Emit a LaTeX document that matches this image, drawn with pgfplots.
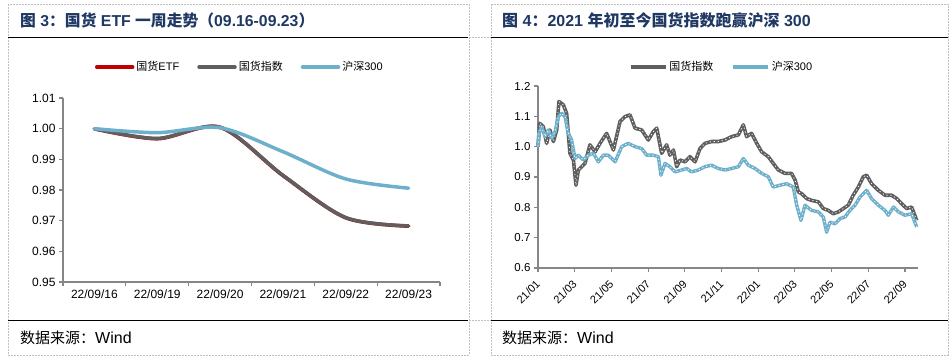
\documentclass[border=0pt]{standalone}
\usepackage{pgfplots}
\usepackage{pgfplotstable}
\pgfplotsset{compat=1.18}
\usepackage{fontspec}
\setmainfont{Liberation Sans}
\newfontfamily\cjk{Noto Sans CJK SC}
\definecolor{navy}{RGB}{31,56,100}
\definecolor{idx}{RGB}{95,95,95}
\definecolor{hs}{RGB}{110,176,204}
\definecolor{etf}{RGB}{192,0,0}
\definecolor{axgray}{RGB}{134,134,134}

\pgfplotstableread{
m v
0 1.000
0.09 1.077
0.29 1.066
0.47 1.011
0.65 1.055
0.84 1.017
1.02 1.055
1.14 1.149
1.38 1.138
1.56 1.110
1.74 0.978
1.93 0.956
2.07 0.873
2.20 0.923
2.38 0.934
2.56 0.945
2.83 1.006
3.11 0.983
3.38 1.011
3.74 1.044
4.11 0.989
4.47 1.083
4.74 1.099
5.01 1.105
5.29 1.061
5.65 1.055
6.01 1.022
6.29 1.050
6.47 1.061
6.74 0.978
7.01 1.006
7.19 0.972
7.38 0.989
7.56 0.934
7.74 0.956
8.01 0.950
8.28 0.967
8.56 0.950
8.83 0.994
9.10 1.011
9.46 1.017
9.83 1.017
10.19 1.022
10.55 1.033
10.92 1.039
11.19 1.072
11.37 1.033
11.64 1.044
11.92 1.011
12.19 0.983
12.55 0.967
12.82 0.945
13.10 0.923
13.46 0.912
13.82 0.912
14.01 0.890
14.19 0.851
14.37 0.845
14.64 0.829
14.91 0.823
15.28 0.818
15.55 0.796
15.82 0.790
16.09 0.779
16.37 0.785
16.64 0.796
16.91 0.807
17.18 0.840
17.46 0.867
17.73 0.901
17.91 0.906
18.18 0.878
18.55 0.856
18.91 0.840
19.27 0.840
19.55 0.829
19.82 0.812
20.09 0.796
20.36 0.801
20.64 0.757
}\gxtable

\pgfplotstableread{
m v
0 1.000
0.05 1.044
0.20 1.066
0.38 1.033
0.56 1.055
0.74 1.028
0.93 1.050
1.11 1.099
1.29 1.110
1.47 1.099
1.65 1.044
1.83 1.022
2.02 0.961
2.20 0.972
2.47 0.956
2.74 0.972
3.02 0.978
3.29 0.950
3.56 0.972
3.83 0.972
4.20 0.950
4.56 1.000
4.92 1.011
5.29 1.000
5.65 0.994
5.92 0.972
6.29 0.972
6.56 0.967
6.70 0.906
6.92 0.945
7.19 0.934
7.47 0.917
7.83 0.923
8.10 0.928
8.37 0.917
8.74 0.923
9.10 0.934
9.46 0.939
9.83 0.928
10.19 0.923
10.55 0.928
10.92 0.934
11.19 0.961
11.46 0.939
11.83 0.928
12.19 0.912
12.55 0.901
12.82 0.867
13.19 0.873
13.55 0.878
13.91 0.867
14.10 0.807
14.33 0.757
14.55 0.807
14.91 0.790
15.28 0.785
15.55 0.768
15.73 0.718
15.91 0.751
16.19 0.746
16.46 0.763
16.73 0.768
17.00 0.790
17.28 0.807
17.55 0.834
17.91 0.856
18.18 0.829
18.55 0.807
18.91 0.790
19.09 0.774
19.37 0.801
19.64 0.785
20.00 0.774
20.36 0.779
20.64 0.735
}\hstable

\begin{document}
\begin{tikzpicture}[x=1pt,y=1pt]
\useasboundingbox (0pt,0pt) rectangle (952pt,-360pt);
% panel frames
\draw[gray!50, dash pattern=on 2pt off 1pt, line width=0.6pt] (8pt,-4pt) rectangle (469pt,-355pt);
\draw[gray!50, dash pattern=on 2pt off 1pt, line width=0.6pt] (491pt,-4pt) rectangle (948pt,-355pt);
\draw[gray!50, dash pattern=on 2pt off 1pt, line width=0.6pt] (469pt,-37.7pt) -- (491pt,-37.7pt);
\draw[gray!50, dash pattern=on 2pt off 1pt, line width=0.6pt] (469pt,-320pt) -- (491pt,-320pt);
\draw[black, line width=1pt] (8pt,-37.7pt) -- (468pt,-37.7pt);
\draw[black, line width=1pt] (491pt,-37.7pt) -- (948pt,-37.7pt);
\draw[black, line width=1pt] (8pt,-320pt) -- (468pt,-320pt);
\draw[black, line width=1pt] (491pt,-320pt) -- (948pt,-320pt);
% titles
\node[anchor=west, inner sep=0pt, text=navy, font=\bfseries\fontsize{15.8}{18}\selectfont] at (20pt,-20.7pt)
  {{\cjk 图} 3{\cjk ：国货} ETF {\cjk 一周走势（}09.16-09.23{\cjk ）}};
\node[anchor=west, inner sep=0pt, text=navy, font=\bfseries\fontsize{16}{18}\selectfont] at (502pt,-20.5pt)
  {{\cjk 图} 4{\cjk ：}2021 {\cjk 年初至今国货指数跑赢沪深} 300};
% sources
\node[anchor=west, inner sep=0pt, font=\fontsize{16}{18}\selectfont] at (20pt,-338pt) {{\cjk\fontsize{15}{17}\selectfont 数据来源：}Wind};
\node[anchor=west, inner sep=0pt, font=\fontsize{16}{18}\selectfont] at (502pt,-338pt) {{\cjk\fontsize{15}{17}\selectfont 数据来源：}Wind};

% ---------------- left chart ----------------
\begin{axis}[
  at={(63pt,-282pt)}, anchor=south west,
  scale only axis, width=377pt, height=184pt,
  xmin=-0.5, xmax=5.5, ymin=0.95, ymax=1.01,
  axis x line*=bottom, axis y line*=left,
  axis line style={axgray, line width=1.5pt, -},
  xtick={0,1,2,3,4,5},
  xticklabels={22/09/16,22/09/19,22/09/20,22/09/21,22/09/22,22/09/23},
  minor xtick={-0.5,0.5,1.5,2.5,3.5,4.5,5.5},
  major x tick style={draw=none},
  minor x tick style={axgray, line width=1.2pt},
  major y tick style={axgray, line width=1.2pt},
  ytick={0.95,0.96,0.97,0.98,0.99,1.00,1.01},
  tick align=outside, major tick length=4pt, minor tick length=4pt,
  ticklabel style={font=\fontsize{12}{14}\selectfont, text=black},
  yticklabel style={/pgf/number format/.cd, fixed, fixed zerofill, precision=2, assume math mode=true},
  clip=false,
  legend style={at={(0.469,1.168)}, anchor=center, draw=none, fill=none, legend columns=3,
    font=\cjk\fontsize{11}{13}\selectfont, inner sep=0pt,
    /tikz/every even column/.append style={column sep=16pt}},
  legend image code/.code={\draw[#1, line width=3.5pt] (0pt,0pt) -- (36pt,0pt);},
]
\addplot[etf, line width=3.6pt, smooth, line cap=round] coordinates {
(0,0.99995) (1,0.99672) (2,1.00043) (3,0.98472) (4,0.97094) (5,0.96823)};
\addlegendentry{国货{\fontspec{Liberation Sans}ETF}}
\addplot[idx, line width=3.5pt, smooth, line cap=round] coordinates {
(0,1.0000) (1,0.9968) (2,1.0005) (3,0.9848) (4,0.9710) (5,0.9683)};
\addlegendentry{国货指数}
\addplot[hs, line width=3.5pt, smooth, line cap=round] coordinates {
(0,1.0000) (1,0.9987) (2,1.0003) (3,0.9925) (4,0.9836) (5,0.9806)};
\addlegendentry{沪深{\fontspec{Liberation Sans}300}}
\end{axis}

% ---------------- right chart ----------------
\begin{axis}[
  at={(538pt,-268pt)}, anchor=south west,
  scale only axis, width=380pt, height=182pt,
  xmin=0, xmax=20.71, ymin=0.6, ymax=1.2,
  axis x line*=bottom, axis y line*=left,
  axis line style={axgray, line width=1.5pt, -},
  xtick={0,2,4,6,8,10,12,14,16,18,20},
  xticklabels={21/01,21/03,21/05,21/07,21/09,21/11,22/01,22/03,22/05,22/07,22/09},
  ytick={0.6,0.7,0.8,0.9,1.0,1.1,1.2},
  tick style={axgray, line width=1.2pt},
  tick align=outside, major tick length=4pt,
  ticklabel style={font=\fontsize{11.5}{14}\selectfont, text=black},
  xticklabel style={rotate=45, anchor=north east, font=\fontsize{11}{13}\selectfont, inner sep=1pt, xshift=-6pt, yshift=-2pt},
  yticklabel style={/pgf/number format/.cd, fixed, fixed zerofill, precision=1, assume math mode=true},
  clip=false,
  legend style={at={(0.483,1.104)}, anchor=center, draw=none, fill=none, legend columns=2,
    font=\cjk\fontsize{11}{13}\selectfont, inner sep=0pt,
    /tikz/every even column/.append style={column sep=16pt}},
  legend image code/.code={\draw[#1, line width=3.5pt] (0pt,0pt) -- (35pt,0pt);},
]
\addplot[idx, line width=3.6pt, line join=round] table[x=m, y=v] {\gxtable};
\addlegendentry{国货指数}
\addplot[white, line width=0.7pt, line join=round, dash pattern=on 1.2pt off 2.8pt, forget plot] table[x=m, y=v] {\gxtable};
\addplot[hs, line width=3.4pt, line join=round] table[x=m, y=v] {\hstable};
\addlegendentry{沪深{\fontspec{Liberation Sans}300}}
\addplot[white, line width=0.7pt, line join=round, dash pattern=on 1.2pt off 2.8pt, forget plot] table[x=m, y=v] {\hstable};
\end{axis}
\end{tikzpicture}
\end{document}
